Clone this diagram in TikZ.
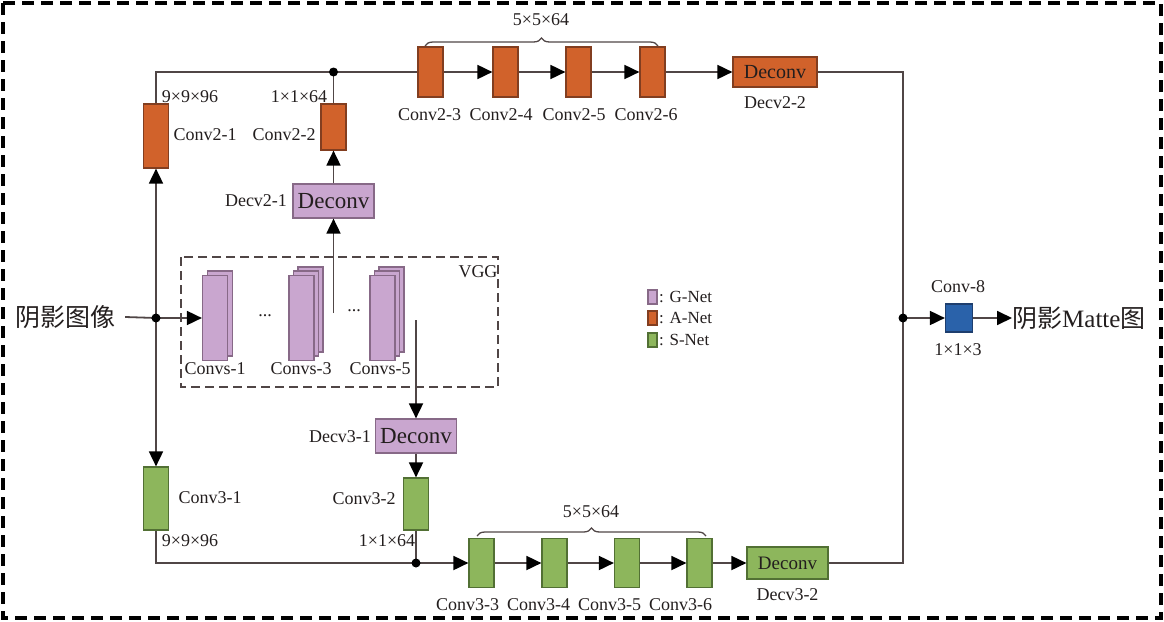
\documentclass[tikz,border=0pt]{standalone}
\usepackage{fontspec}
\setmainfont{Liberation Serif}
\newfontfamily\cjk{Noto Sans CJK SC}
\usetikzlibrary{arrows.meta,decorations.pathreplacing}
\definecolor{orangeF}{RGB}{209,98,43}
\definecolor{orangeD}{RGB}{130,62,32}
\definecolor{lavF}{RGB}{201,166,207}
\definecolor{lavD}{RGB}{135,105,135}
\definecolor{greenF}{RGB}{141,182,92}
\definecolor{greenD}{RGB}{82,112,52}
\definecolor{blueF}{RGB}{42,98,170}
\definecolor{blueD}{RGB}{30,62,110}
\definecolor{lineC}{RGB}{80,70,70}
\definecolor{txtC}{RGB}{35,30,30}
\tikzset{
  box/.style={draw, line width=1.2pt, inner sep=0pt, anchor=center},
  obox/.style={box, fill=orangeF, draw=orangeD},
  lbox/.style={box, fill=lavF, draw=lavD},
  gbox/.style={box, fill=greenF, draw=greenD},
  bbox/.style={box, fill=blueF, draw=blueD},
  tall/.style={minimum width=25pt, minimum height=#1},
  lbl/.style={font=\fontsize{18}{21}\selectfont, inner sep=0pt, text=txtC},
  ln/.style={draw=lineC, line width=1.8pt},
  arr/.style={ln, -{Triangle[length=15pt,width=14pt,color=black]}},
  dot/.style={circle, fill=black, inner sep=0pt, minimum size=9pt},
}
\begin{document}
\begin{tikzpicture}[x=1pt,y=-1pt]
\useasboundingbox (0,0) rectangle (1164,621);
% outer border
\draw[black, line width=3.5pt, dash pattern=on 12pt off 7pt] (3,3) rectangle (1161,618);
% VGG box
\draw[lineC, line width=1.4pt, dash pattern=on 9pt off 5pt] (181,257) rectangle (498,387);
\node[lbl] (vgg) at (478,272) {VGG};
% stacks
\node[lbox, tall=85pt] (s1b) at (220,313.5) {};
\node[lbox, tall=85pt] (s1f) at (215,318) {};
\node[lbox, tall=85pt] (s3c) at (310.5,309.5) {};
\node[lbox, tall=85pt] (s3b) at (306,313.5) {};
\node[lbox, tall=85pt] (s3f) at (301.5,318) {};
\node[lbox, tall=85pt] (s5c) at (391.5,309.5) {};
\node[lbox, tall=85pt] (s5b) at (387,313.5) {};
\node[lbox, tall=85pt] (s5f) at (382.5,318) {};
\node[lbl] (dots1) at (265,316) {...};
\node[lbl] (dots2) at (354,311) {...};
\node[lbl] (s1l) at (215,369) {Convs-1};
\node[lbl] (s3l) at (301,369) {Convs-3};
\node[lbl] (s5l) at (380,369) {Convs-5};
% input
\node[font=\cjk\fontsize{25}{28}\selectfont, inner sep=0pt, text=txtC] (inp) at (65,317) {阴影图像};
\coordinate (j1) at (156,318);
\coordinate (j2) at (333.5,72);
\coordinate (j3) at (903,318);
\coordinate (j4) at (416,563);
\coordinate (s3tap) at (333.5,313);
\coordinate (s5tap) at (416,320);
% upper branch
\node[obox, tall=64pt] (c21) at (156,136) {};
\node[obox, tall=46pt] (c22) at (333.5,127) {};
\node[lbox, minimum width=81pt, minimum height=34pt, font=\fontsize{23}{26}\selectfont, text=txtC] (d21) at (333.5,201) {Deconv};
\node[obox, tall=50pt] (c23) at (430.5,72) {};
\node[obox, tall=50pt] (c24) at (505.5,72) {};
\node[obox, tall=50pt] (c25) at (578.5,72) {};
\node[obox, tall=50pt] (c26) at (652.5,72) {};
\node[obox, minimum width=84pt, minimum height=30pt, font=\fontsize{20}{22}\selectfont, text=txtC] (d22) at (775,72) {Deconv};
\node[lbl] (l96a) at (190,97) {9×9×96};
\node[lbl] (l21) at (205,135) {Conv2-1};
\node[lbl] (l64a) at (299,97) {1×1×64};
\node[lbl] (l22) at (284,135) {Conv2-2};
\node[lbl] (ld21) at (256,201) {Decv2-1};
\node[lbl] (l23) at (429.5,115) {Conv2-3};
\node[lbl] (l24) at (501,115) {Conv2-4};
\node[lbl] (l25) at (574,115) {Conv2-5};
\node[lbl] (l26) at (646,115) {Conv2-6};
\node[lbl] (ld22) at (775,103) {Decv2-2};
\draw[decorate, decoration={brace, amplitude=8pt}, lineC, line width=1.3pt] (425,46) -- (658,46);
\node[lbl] (b1) at (541,20) {5×5×64};
% lower branch
\node[gbox, tall=63pt] (c31) at (156,498.5) {};
\node[gbox, tall=52pt] (c32) at (416,504) {};
\node[lbox, minimum width=81pt, minimum height=34pt, font=\fontsize{23}{26}\selectfont, text=txtC] (d31) at (416,436) {Deconv};
\node[gbox, tall=49pt] (c33) at (481.5,563) {};
\node[gbox, tall=49pt] (c34) at (554.5,563) {};
\node[gbox, tall=49pt] (c35) at (627,563) {};
\node[gbox, tall=49pt] (c36) at (699.5,563) {};
\node[gbox, minimum width=81pt, minimum height=32pt, font=\fontsize{19}{22}\selectfont, text=txtC] (d32) at (787.5,563) {Deconv};
\node[lbl] (l31) at (210,498) {Conv3-1};
\node[lbl] (l96b) at (190,541) {9×9×96};
\node[lbl] (l32) at (364,499) {Conv3-2};
\node[lbl] (l64b) at (387,541) {1×1×64};
\node[lbl] (ld31) at (340,437) {Decv3-1};
\node[lbl] (l33) at (467.5,605) {Conv3-3};
\node[lbl] (l34) at (538.5,605) {Conv3-4};
\node[lbl] (l35) at (609.5,605) {Conv3-5};
\node[lbl] (l36) at (680.5,605) {Conv3-6};
\node[lbl] (ld32) at (787.5,595) {Decv3-2};
\draw[decorate, decoration={brace, amplitude=8pt}, lineC, line width=1.3pt] (477,536) -- (706,536);
\node[lbl] (b2) at (591,512) {5×5×64};
% output
\node[bbox, minimum width=27pt, minimum height=28pt] (c8) at (959,318) {};
\node[lbl] (l8) at (958,287) {Conv-8};
\node[lbl] (l8b) at (958,350) {1×1×3};
\node[font=\fontsize{25}{28}\selectfont, inner sep=0pt, anchor=west, text=txtC] (out) at (1012,318) {{\cjk 阴影}Matte{\cjk 图}};
% legend
\node[lbox, minimum width=9pt, minimum height=14pt] (lg1) at (652.5,297) {};
\node[obox, minimum width=9pt, minimum height=14pt] (lg2) at (652.5,318) {};
\node[gbox, minimum width=9pt, minimum height=14pt] (lg3) at (652.5,340) {};
\node[font=\fontsize{17}{19}\selectfont, inner sep=0pt, anchor=west, text=txtC] (lt1) at (659,297) {: G-Net};
\node[font=\fontsize{17}{19}\selectfont, inner sep=0pt, anchor=west, text=txtC] (lt2) at (659,318) {: A-Net};
\node[font=\fontsize{17}{19}\selectfont, inner sep=0pt, anchor=west, text=txtC] (lt3) at (659,340) {: S-Net};
% connectors
\draw[ln] ([xshift=10pt]inp.east) -- (j1);
\draw[arr] (j1) -- (s1f.west);
\draw[arr] (j1) -- (c21.south);
\draw[arr] (j1) -- (c31.north);
\draw[ln] (c21.north) |- (c23.west);
\draw[ln] (c22.north) -- (j2);
\draw[arr] (c23.east) -- (c24.west);
\draw[arr] (c24.east) -- (c25.west);
\draw[arr] (c25.east) -- (c26.west);
\draw[arr] (c26.east) -- (d22.west);
\draw[arr] (s3tap) -- (d21.south);
\draw[arr] (d21.north) -- (c22.south);
\draw[arr] (s5tap) -- (d31.north);
\draw[arr] (d31.south) -- (c32.north);
\draw[ln] (c31.south) |- (j4);
\draw[ln] (c32.south) -- (j4);
\draw[arr] (j4) -- (c33.west);
\draw[arr] (c33.east) -- (c34.west);
\draw[arr] (c34.east) -- (c35.west);
\draw[arr] (c35.east) -- (c36.west);
\draw[arr] (c36.east) -- (d32.west);
\draw[ln] (d22.east) -| (j3) |- (d32.east);
\draw[arr] (j3) -- (c8.west);
\draw[arr] (c8.east) -- (out.west);
\node[dot] at (j1) {};
\node[dot] at (j2) {};
\node[dot] at (j3) {};
\node[dot] at (j4) {};
\end{tikzpicture}
\end{document}
